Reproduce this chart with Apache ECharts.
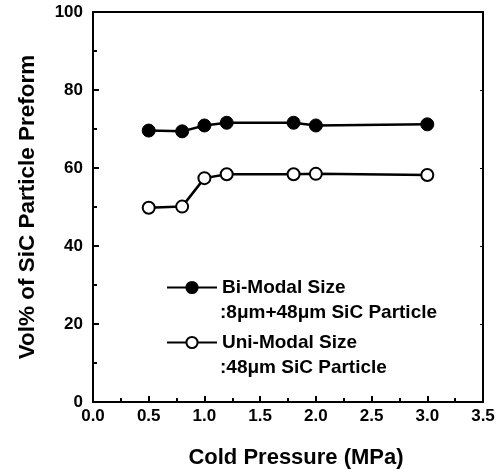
<!DOCTYPE html>
<html>
<head>
<meta charset="utf-8">
<script src="https://cdn.jsdelivr.net/npm/echarts@6/dist/echarts.min.js"></script>
<style>html,body{margin:0;padding:0;background:#fff;}#c{width:500px;height:474px;}</style>
</head>
<body>
<div id="c"></div>
<script>
var pressure = [0.5, 0.8, 1.0, 1.2, 1.8, 2.0, 3.0];
var biModal = [69.6, 69.4, 70.9, 71.6, 71.6, 70.9, 71.2];
var uniModal = [49.8, 50.1, 57.4, 58.4, 58.4, 58.5, 58.2];
var seriesNames = ['Bi-Modal Size', 'Uni-Modal Size'];
var seriesSub = [':8\u03bcm+48\u03bcm SiC Particle', ':48\u03bcm SiC Particle'];
var xTitle = 'Cold Pressure (MPa)';
var yTitle = 'Vol% of SiC Particle Preform';

function pairs(xs, ys){ return xs.map(function(x,i){ return [x, ys[i]]; }); }

var FONT = '"Liberation Sans", Arial, sans-serif';
var axisCommon = {
  axisLine: {show: true, onZero: false, lineStyle: {color: '#000', width: 2}},
  axisTick: {show: true, inside: true, length: 6, lineStyle: {color: '#000', width: 2}},
  minorTick: {show: true, splitNumber: 2, length: 4, lineStyle: {color: '#000', width: 2}},
  splitLine: {show: false}
};

var chart = echarts.init(document.getElementById('c'));
chart.setOption({
  backgroundColor: '#fff',
  animation: false,
  grid: {left: 93, right: 17, top: 12, bottom: 72},
  legend: {
    orient: 'vertical', left: 166, top: 278, padding: 0,
    itemWidth: 50, itemHeight: 14, itemGap: 36,
    data: seriesNames,
    textStyle: {fontFamily: FONT, fontWeight: 'bold', fontSize: 19, color: '#000'}
  },
  xAxis: [
    Object.assign({
      type: 'value', min: 0, max: 3.5, interval: 0.5, position: 'bottom',
      axisLabel: {margin: 6, color: '#000', fontFamily: FONT, fontWeight: 'bold', fontSize: 17,
        formatter: function(v){ return v.toFixed(1); }},
      name: xTitle, nameLocation: 'middle', nameGap: 45,
      nameTextStyle: {fontFamily: FONT, fontWeight: 'bold', fontSize: 22, color: '#000', padding: [0,0,0,16]}
    }, axisCommon),
    Object.assign({
      type: 'value', min: 0, max: 3.5, interval: 0.5, position: 'top',
      axisLabel: {show: false}
    }, axisCommon, {axisTick: {show: false}, minorTick: {show: false}})
  ],
  yAxis: [
    Object.assign({
      type: 'value', min: 0, max: 100, interval: 20, position: 'left',
      axisLabel: {margin: 10, color: '#000', fontFamily: FONT, fontWeight: 'bold', fontSize: 17},
      name: yTitle, nameLocation: 'middle', nameGap: 54,
      nameTextStyle: {fontFamily: FONT, fontWeight: 'bold', fontSize: 22.5, color: '#000'}
    }, axisCommon),
    Object.assign({
      type: 'value', min: 0, max: 100, interval: 20, position: 'right',
      axisLabel: {show: false}
    }, axisCommon, {axisTick: {show: true, inside: true, length: 3, lineStyle: {color: '#000', width: 1}}, minorTick: {show: false}})
  ],
  series: [
    {
      name: seriesNames[0], type: 'line', xAxisIndex: 0, yAxisIndex: 0,
      data: pairs(pressure, biModal),
      symbol: 'circle', symbolSize: 13,
      lineStyle: {color: '#000', width: 2.5},
      itemStyle: {color: '#000', borderColor: '#000', borderWidth: 1}
    },
    {
      name: seriesNames[1], type: 'line', xAxisIndex: 0, yAxisIndex: 0,
      data: pairs(pressure, uniModal),
      symbol: 'circle', symbolSize: 12,
      lineStyle: {color: '#000', width: 2.5},
      itemStyle: {color: '#fff', borderColor: '#000', borderWidth: 2}
    }
  ],
  graphic: [
    {type: 'text', left: 220, top: 303, style: {text: seriesSub[0], font: 'bold 19px ' + FONT, fill: '#000'}},
    {type: 'text', left: 220, top: 358, style: {text: seriesSub[1], font: 'bold 19px ' + FONT, fill: '#000'}}
  ]
});
</script>
</body>
</html>
